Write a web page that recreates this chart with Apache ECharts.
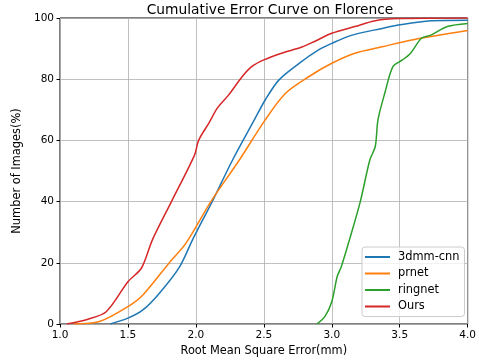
<!DOCTYPE html>
<html>
<head>
<meta charset="utf-8">
<script src="https://cdn.jsdelivr.net/npm/echarts@6/dist/echarts.min.js"></script>
<style>
  html, body { margin: 0; padding: 0; background: #fff; }
  #chart { width: 479px; height: 362px; }
</style>
</head>
<body>
<div id="chart"></div>
<script>
  // values: [rmse, percent]
  const cnn3dmm = [
    [1.37, 0], [1.5, 1.9], [1.61, 4.6], [1.73, 10], [1.88, 18.7], [1.975, 27.5],
    [2.05, 34], [2.12, 40], [2.27, 53.6], [2.43, 66.7], [2.51, 73.2], [2.61, 79.7],
    [2.76, 85.2], [2.9, 89.5], [3.0, 91.7], [3.15, 94.4], [3.37, 96.6], [3.49, 97.7],
    [3.73, 99.1], [4.0, 99.3]
  ]
  const prnet = [
    [1.1, 0], [1.29, 0.8], [1.5, 5.7], [1.61, 9.5], [1.8, 19.8], [1.93, 26.6],
    [2.11, 40], [2.32, 53.6], [2.51, 66.7], [2.66, 75.4], [2.83, 80.8], [3.0, 85.2],
    [3.17, 88.5], [3.37, 90.6], [3.61, 93.0], [4.0, 95.9]
  ]
  const ringnet = [
    [2.89, 0], [2.95, 2.5], [3.0, 7.3], [3.04, 15.5], [3.07, 18.7], [3.13, 27.5],
    [3.21, 40], [3.28, 53.6], [3.32, 58], [3.34, 66.7], [3.39, 75.4], [3.45, 84.1],
    [3.52, 86.3], [3.58, 88.5], [3.66, 93.4], [3.73, 94.4], [3.85, 97.2], [4.0, 98.2]
  ]
  const ours = [
    [1.05, 0], [1.2, 1.5], [1.34, 4.0], [1.5, 13.8], [1.6, 18.3], [1.68, 27.5],
    [1.82, 40], [1.99, 55.2], [2.02, 60], [2.1, 66], [2.16, 70.7], [2.24, 74.8],
    [2.34, 80.8], [2.41, 84.1], [2.5, 86.3], [2.63, 88.5], [2.78, 90.5], [2.88, 92.5],
    [3.0, 95], [3.17, 97.2], [3.32, 99.1], [3.49, 99.8], [4.0, 100]
  ]
  const names = ['3dmm-cnn', 'prnet', 'ringnet', 'Ours']
  const colors = ['#1f77b4', '#ff7f0e', '#2ca02c', '#d62728']
  const seriesData = [cnn3dmm, prnet, ringnet, ours]

  const chart = echarts.init(document.getElementById('chart'))
  const font = 'DejaVu Sans'
  chart.setOption({
    animation: false,
    color: colors,
    textStyle: { fontFamily: font },
    title: {
      text: 'Cumulative Error Curve on Florence',
      left: 265,
      textAlign: 'center',
      top: -2,
      textStyle: { fontFamily: font, fontSize: 13.8, fontWeight: 'normal', color: '#000' }
    },
    grid: {
      left: 60,
      right: 8.5,
      top: 18,
      bottom: 38,
      show: true,
      borderColor: '#000',
      borderWidth: 1
    },
    xAxis: {
      type: 'value',
      min: 1,
      max: 4,
      interval: 0.5,
      name: 'Root Mean Square Error(mm)',
      nameLocation: 'middle',
      nameGap: 22,
      nameTextStyle: { fontSize: 11.4, color: '#000' },
      axisLine: { show: false },
      axisTick: { show: true, length: 3.5, lineStyle: { color: '#000' } },
      axisLabel: { fontSize: 10.5, color: '#000', margin: 6, formatter: v => v.toFixed(1) },
      splitLine: { show: true, lineStyle: { color: '#b0b0b0', width: 0.8 } }
    },
    yAxis: {
      type: 'value',
      min: 0,
      max: 100,
      interval: 20,
      name: 'Number of Images(%)',
      nameLocation: 'middle',
      nameGap: 37,
      nameTextStyle: { fontSize: 11.4, color: '#000' },
      axisLine: { show: false },
      axisTick: { show: true, length: 3.5, lineStyle: { color: '#000' } },
      axisLabel: { fontSize: 10.5, color: '#000', margin: 6 },
      splitLine: { show: true, lineStyle: { color: '#b0b0b0', width: 0.8 } }
    },
    legend: {
      orient: 'vertical',
      left: 362,
      top: 247,
      padding: [3, 5, 3, 3],
      itemGap: 2.5,
      itemWidth: 25,
      itemHeight: 2,
      icon: 'rect',
      backgroundColor: 'rgba(255,255,255,0.8)',
      borderColor: '#cccccc',
      borderWidth: 1,
      borderRadius: 3,
      textStyle: { fontSize: 11.4, lineHeight: 14, color: '#000', padding: [0, 0, 0, 3] },
      data: names
    },
    series: seriesData.map((d, i) => ({
      name: names[i],
      type: 'line',
      data: d,
      smooth: 0.3,
      showSymbol: false,
      symbol: 'none',
      clip: true,
      lineStyle: { width: 1.5, color: colors[i] },
      itemStyle: { color: colors[i] }
    }))
  })
</script>
</body>
</html>
